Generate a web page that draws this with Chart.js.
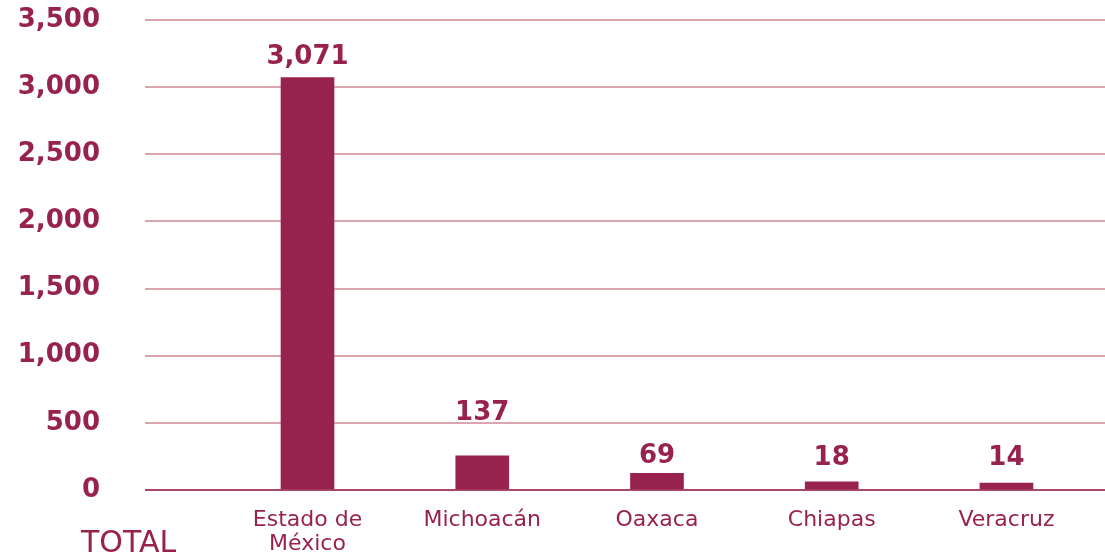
<!DOCTYPE html>
<html>
<head>
<meta charset="utf-8">
<script src="https://cdn.jsdelivr.net/npm/chart.js@4"></script>
<style>
  html, body { margin: 0; padding: 0; background: #ffffff; }
  #wrap { width: 1105px; height: 556px; }
</style>
</head>
<body>
<div id="wrap"><canvas id="totalChart" width="1105" height="556"></canvas></div>
<script>
// ===============================
// DATA
// ===============================
const categories = [["Estado de", "México"], "Michoacán", "Oaxaca", "Chiapas", "Veracruz"];
const barValues = [3071, 255, 125, 60, 52];      // bar heights as drawn
const valueLabels = [3071, 137, 69, 18, 14];     // numbers printed above bars
const yTicks = [0, 500, 1000, 1500, 2000, 2500, 3000, 3500];

const maroon = "#98224e";
const gridPink = "#dba5b0";
const zeroLine = "#a8466b";
const fontFamily = "'DejaVu Sans', sans-serif";

// ===============================
// PLUGINS
// ===============================
const barLabels = {
    id: "barLabels",
    afterDatasetsDraw(chart, args, opts) {
        const ctx = chart.ctx;
        const meta = chart.getDatasetMeta(0);
        ctx.save();
        ctx.fillStyle = maroon;
        ctx.font = "bold 26px " + fontFamily;
        ctx.textAlign = "center";
        ctx.textBaseline = "alphabetic";
        meta.data.forEach((bar, i) => {
            const txt = valueLabels[i].toLocaleString("en-US");
            ctx.fillText(txt, bar.x, bar.y - opts.lift[i]);
        });
        ctx.restore();
    }
};

const totalLabel = {
    id: "totalLabel",
    afterDraw(chart) {
        const ctx = chart.ctx;
        ctx.save();
        ctx.fillStyle = maroon;
        ctx.font = "30px " + fontFamily;
        ctx.textAlign = "left";
        ctx.textBaseline = "alphabetic";
        ctx.fillText("TOTAL", 81, 552);
        ctx.restore();
    }
};

// ===============================
// CHART
// ===============================
document.addEventListener("DOMContentLoaded", () => {

    Chart.defaults.font.family = fontFamily;
    Chart.defaults.color = maroon;

    new Chart(document.getElementById("totalChart"), {
        type: "bar",
        data: {
            datasets: [{
                data: barValues.map((v, i) => ({ x: i, y: v })),
                backgroundColor: maroon,
                borderWidth: 0,
                barThickness: 53
            }]
        },
        options: {
            responsive: false,
            animation: false,
            devicePixelRatio: 1,
            layout: {
                padding: { top: 20, right: 0, bottom: 0, left: 0 }
            },
            plugins: {
                legend: { display: false },
                tooltip: { enabled: false },
                barLabels: { lift: [14, 36, 10, 17, 18] }
            },
            scales: {
                x: {
                    type: "linear",
                    offset: false,
                    min: -0.93,
                    max: 4.564,
                    afterBuildTicks: scale => {
                        scale.ticks = categories.map((c, i) => ({ value: i }));
                    },
                    afterFit: scale => {
                        scale.height = 66;
                        scale.paddingLeft = 0;
                        scale.paddingRight = 0;
                    },
                    grid: { display: false, offset: false },
                    border: { display: false },
                    ticks: {
                        autoSkip: false,
                        maxRotation: 0,
                        padding: 10,
                        color: maroon,
                        font: { size: 22, lineHeight: 1.1 },
                        callback: value => categories[value]
                    }
                },
                y: {
                    min: 0,
                    max: 3500,
                    afterBuildTicks: scale => {
                        scale.ticks = yTicks.map(v => ({ value: v }));
                    },
                    afterFit: scale => {
                        scale.width = 145;
                        scale.paddingTop = 0;
                        scale.paddingBottom = 0;
                    },
                    grid: {
                        drawTicks: false,
                        lineWidth: 2,
                        color: c => (c.tick && c.tick.value === 0 ? zeroLine : gridPink)
                    },
                    border: { display: false },
                    ticks: {
                        padding: 45,
                        color: maroon,
                        font: { size: 26, weight: "bold" },
                        callback: v => v.toLocaleString("en-US")
                    }
                }
            }
        },
        plugins: [barLabels, totalLabel]
    });
});
</script>
</body>
</html>
